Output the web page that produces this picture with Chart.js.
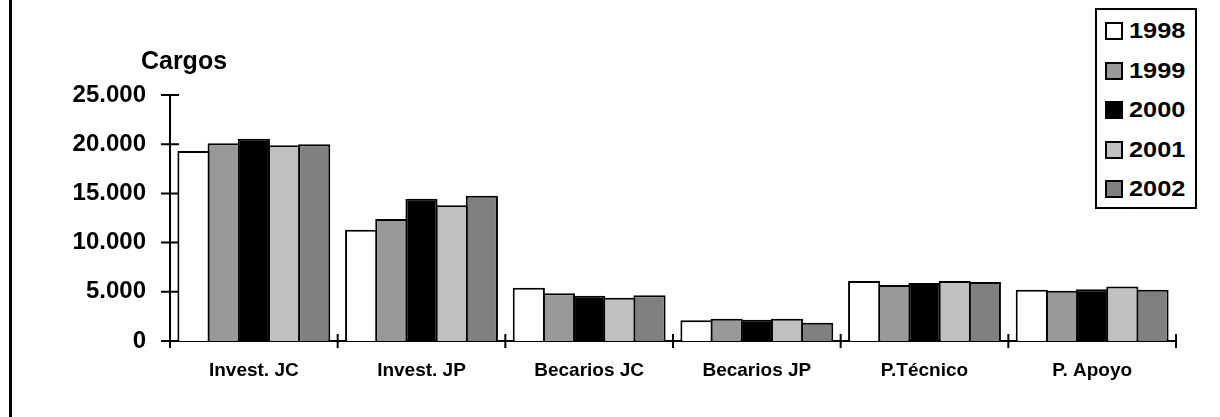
<!DOCTYPE html>
<html>
<head>
<meta charset="utf-8">
<script src="https://cdn.jsdelivr.net/npm/chart.js@4.4.1/dist/chart.umd.min.js"></script>
<style>
    body { margin: 0; background: #fff; }
    #wrap { position: relative; width: 1220px; height: 417px; }
    #frame { position: absolute; left: 9px; top: 0; width: 2.5px; height: 417px; background: #000; }
    #legend {
        position: absolute; left: 1095px; top: 8px; width: 98px; height: 197px;
        border: 2px solid #000; background: #fff; box-sizing: content-box;
        font-family: Arial, "Liberation Sans", sans-serif; font-weight: bold; font-size: 22px;
    }
    .item { position: absolute; left: 8px; height: 24px; display: flex; align-items: center; }
    .box { width: 14px; height: 14px; border: 2px solid #000; margin-right: 6px; }
    .lab { transform: scaleX(1.15); transform-origin: left center; }
</style>
</head>
<body>
<div id="wrap">
    <canvas id="myChart" width="1220" height="417"></canvas>
    <div id="frame"></div>
    <div id="legend"></div>
</div>
<script>
// categories and series
const categories = ["Invest. JC", "Invest. JP", "Becarios JC", "Becarios JP", "P.Técnico", "P. Apoyo"];
const years = ["1998", "1999", "2000", "2001", "2002"];
const colors = ["#ffffff", "#999999", "#000000", "#c0c0c0", "#808080"];

const values1998 = [19300, 11300, 5400, 2100, 6100, 5200];
const values1999 = [20100, 12400, 4850, 2250, 5700, 5100];
const values2000 = [20550, 14450, 4600, 2150, 5900, 5250];
const values2001 = [19900, 13800, 4400, 2250, 6100, 5550];
const values2002 = [20000, 14750, 4650, 1850, 6000, 5200];
const seriesValues = [values1998, values1999, values2000, values2001, values2002];

const yTicks = [0, 5000, 10000, 15000, 20000, 25000];

function formatThousands(v) {
    return v.toString().replace(/\B(?=(\d{3})+(?!\d))/g, ".");
}

// draws the crossing tick marks and the "Cargos" label
const extrasPlugin = {
    id: "extras",
    afterDraw(chart) {
        const ctx = chart.ctx;
        const x = chart.scales.x;
        const y = chart.scales.y;
        const area = chart.chartArea;
        ctx.save();
        ctx.strokeStyle = "#000";
        ctx.lineWidth = 2;
        ctx.beginPath();
        y.ticks.forEach(t => {
            const py = y.getPixelForValue(t.value);
            ctx.moveTo(area.left - 9, py);
            ctx.lineTo(area.left + 9, py);
        });
        const half = (x.getPixelForValue(1) - x.getPixelForValue(0)) / 2;
        for (let i = 0; i <= categories.length; i++) {
            const px = x.getPixelForValue(i) - half;
            ctx.moveTo(px, area.bottom - 7);
            ctx.lineTo(px, area.bottom + 7);
        }
        ctx.stroke();

        ctx.fillStyle = "#000";
        ctx.font = "bold 25px Arial, 'Liberation Sans', sans-serif";
        ctx.textAlign = "center";
        ctx.textBaseline = "middle";
        ctx.fillText("Cargos", area.left + 14, 62);
        ctx.restore();
    }
};

const chart = new Chart(document.getElementById("myChart"), {
    type: "bar",
    data: {
        labels: categories,
        datasets: years.map((yr, i) => ({
            label: yr,
            data: seriesValues[i],
            backgroundColor: colors[i],
            borderColor: "#000",
            borderWidth: 2,
            inflateAmount: 0,
            barPercentage: 1.066,
            categoryPercentage: 0.9,
        })),
    },
    options: {
        responsive: false,
        animation: false,
        layout: { padding: { top: 95, right: 44, left: 0, bottom: 0 } },
        plugins: {
            legend: { display: false },
            tooltip: { enabled: false },
        },
        scales: {
            x: {
                grid: { display: false, drawTicks: false },
                border: { display: true, color: "#000", width: 2 },
                ticks: {
                    color: "#000",
                    padding: 18,
                    maxRotation: 0,
                    font: { family: "Arial, 'Liberation Sans', sans-serif", size: 19, weight: "bold" },
                },
                afterFit(scale) { scale.height = 76; },
            },
            y: {
                min: 0,
                max: 25000,
                afterBuildTicks(scale) { scale.ticks = yTicks.map(v => ({ value: v })); },
                grid: { display: false, drawTicks: false },
                border: { display: true, color: "#000", width: 2 },
                ticks: {
                    color: "#000",
                    padding: 24,
                    font: { family: "Arial, 'Liberation Sans', sans-serif", size: 24, weight: "bold" },
                    callback: v => formatThousands(v),
                },
                afterFit(scale) { scale.width = 170; },
            },
        },
    },
    plugins: [extrasPlugin],
});

// legend built from the chart datasets
const legendEl = document.getElementById("legend");
chart.data.datasets.forEach((ds, i) => {
    const item = document.createElement("div");
    item.className = "item";
    item.style.top = (9 + i * 39.5) + "px";
    item.innerHTML = `<span class="box" style="background:${ds.backgroundColor}"></span><span class="lab">${ds.label}</span>`;
    legendEl.appendChild(item);
});
</script>
</body>
</html>
